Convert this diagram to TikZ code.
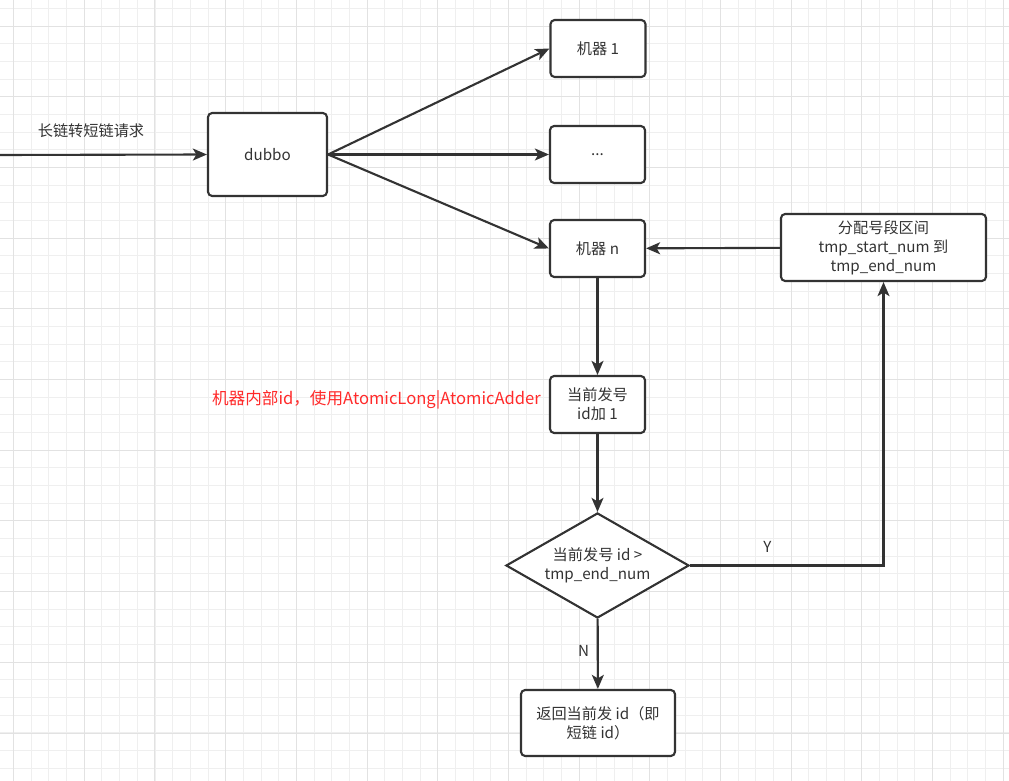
\documentclass[tikz,border=0pt]{standalone}
\usepackage{fontspec}
\setmainfont{Noto Sans CJK SC}
\usepackage{tikz}
\usetikzlibrary{shapes.geometric, arrows.meta, positioning}
\usepackage{xcolor}
\definecolor{linegray}{HTML}{333333}
\definecolor{gridminor}{HTML}{EFEFEF}
\definecolor{gridmajor}{HTML}{E2E2E2}
\definecolor{notered}{HTML}{FF2A2A}

\begin{document}
\begin{tikzpicture}[
    x=0.025cm, y=-0.025cm,
    box/.style = {rectangle, draw=linegray, fill=white, line width=1.5pt, rounded corners=3pt, align=center, font=\fontsize{10.8}{13.5}\selectfont, text=linegray, inner sep=2pt, minimum width=2.375cm, minimum height=1.425cm},
    decision/.style = {diamond, draw=linegray, fill=white, line width=1.5pt, align=center, font=\fontsize{10.8}{13.5}\selectfont, text=linegray, inner sep=0pt, shape aspect=1.74, minimum width=4.575cm, minimum height=2.625cm},
    arrow/.style = {draw=linegray, line width=1.5pt, -{Stealth[length=10pt, width=8.5pt, inset=2.5pt]}},
    lbl/.style = {font=\fontsize{10.8}{13.5}\selectfont, text=linegray},
    gridline/.style = {draw=gridminor, line width=0.5pt},
    gridmain/.style = {draw=gridmajor, line width=0.7pt}
]

% Background and grid
\useasboundingbox (0,0) rectangle (1009,781);
\fill[white] (0,0) rectangle (1009,781);
\foreach \i in {0,...,57} {\draw [gridline] (-4.17+17.67*\i, 0) -- (-4.17+17.67*\i, 781);}
\foreach \i in {0,...,44} {\draw [gridline] (0, -9.34+17.67*\i) -- (1009, -9.34+17.67*\i);}
\foreach \i in {0,...,14} {\draw [gridmain] (13.5+70.7*\i, 0) -- (13.5+70.7*\i, 781);}
\foreach \i in {0,...,10} {\draw [gridmain] (0, 26+70.7*\i) -- (1009, 26+70.7*\i);}

% Entry
\coordinate (start) at (0,155);
\node (dubbo) [box, at={(267.5,154.5)}, minimum width=2.975cm, minimum height=2.075cm] {dubbo};
\node (req) [lbl, at={(91,131)}] {长链转短链请求};

% Machines
\node (m1) [box, at={(598,48.5)}] {机器 1};
\node (mdots) [box, at={(597.5,154.5)}] {...};
\node (mn) [box, at={(597.5,248.5)}] {机器 n};

% Segment allocation
\node (alloc) [box, at={(883.5,247.5)}, minimum width=5.125cm, minimum height=1.675cm] {分配号段区间\\tmp\_start\_num 到\\tmp\_end\_num};

% Id increment and check
\node (incr) [box, at={(597.5,404.5)}] {当前发号\\id加 1};
\node (note) [font=\fontsize{11.8}{13.5}\selectfont, text=notered, at={(376.5,400)}] {机器内部id，使用AtomicLong|AtomicAdder};
\node (check) [decision, at={(597.5,565.5)}] {当前发号 id >\\tmp\_end\_num};
\node (ret) [box, at={(598,723)}, minimum width=3.85cm, minimum height=1.65cm] {返回当前发 id（即\\短链 id）};

% Connections
\draw [arrow] (start) -- (dubbo.west);
\draw [arrow] (dubbo.east) -- (m1.west);
\draw [arrow] (dubbo.east) -- (mdots.west);
\draw [arrow] (dubbo.east) -- (mn.west);
\draw [arrow] (mn) -- (incr);
\draw [arrow] (incr) -- (check);
\draw [arrow] (check) -- node [lbl, pos=0.45, left=2pt] {N} (ret);
\draw [arrow] (check.east) -| node [lbl, pos=0.2, above=5pt] {Y} (alloc.south);
\draw [arrow] (alloc) -- (mn);

\end{tikzpicture}
\end{document}
